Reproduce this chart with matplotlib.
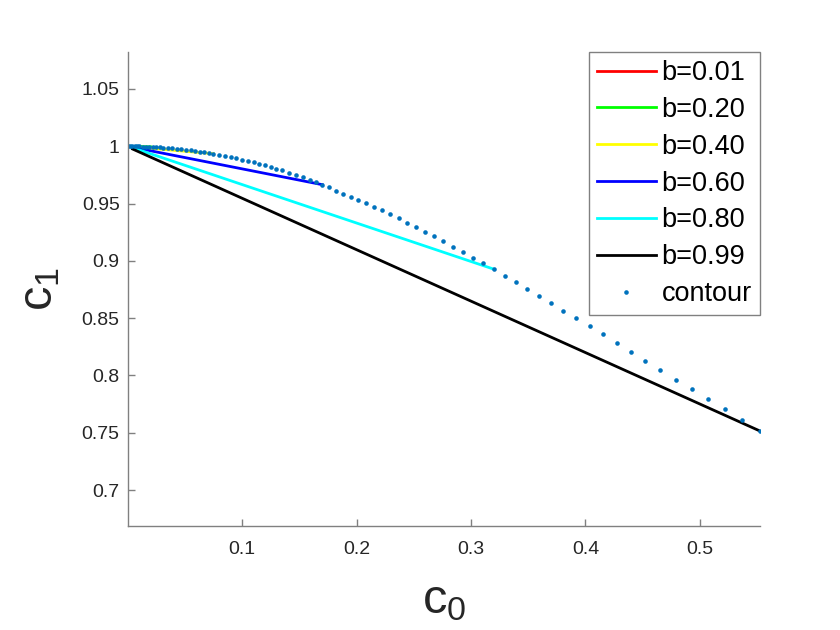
import numpy as np
import matplotlib
matplotlib.use("Agg")
import matplotlib.pyplot as plt

plt.rcParams['font.family'] = ['Liberation Sans', 'DejaVu Sans']
plt.rcParams['mathtext.fontset'] = 'custom'
plt.rcParams['mathtext.rm'] = 'Liberation Sans'
plt.rcParams['mathtext.it'] = 'Liberation Sans'

# contour points (c0, c1)
contour_c0 = [0.000, 0.002, 0.004, 0.006, 0.008, 0.010, 0.013, 0.016, 0.019, 0.022,
              0.025, 0.028, 0.031, 0.035, 0.039, 0.043, 0.047, 0.051, 0.055, 0.059,
              0.063, 0.067, 0.071, 0.075, 0.080, 0.085, 0.090, 0.095, 0.100, 0.105,
              0.110, 0.115, 0.120, 0.125, 0.130, 0.135, 0.141, 0.147, 0.153, 0.159,
              0.165, 0.1700, 0.1761, 0.1822, 0.1884, 0.1950, 0.2015, 0.2081, 0.2151,
              0.2219, 0.2291, 0.2367, 0.2440, 0.2519, 0.2595, 0.2676, 0.2759, 0.2843,
              0.2927, 0.3018, 0.3108, 0.3201, 0.3297, 0.3394, 0.3493, 0.3598, 0.3700,
              0.3808, 0.3922, 0.4036, 0.4152, 0.4272, 0.4397, 0.4522, 0.4654, 0.4788,
              0.4928, 0.5071, 0.5217, 0.5366, 0.5523]
contour_c1 = [1.0000, 1.0000, 1.0000, 1.0000, 0.9999, 0.9999, 0.9998, 0.9997, 0.9996, 0.9994,
              0.9993, 0.9991, 0.9989, 0.9986, 0.9982, 0.9979, 0.9974, 0.9970, 0.9965, 0.9960,
              0.9954, 0.9948, 0.9942, 0.9935, 0.9926, 0.9916, 0.9906, 0.9895, 0.9884, 0.9872,
              0.9860, 0.9847, 0.9833, 0.9819, 0.9804, 0.9789, 0.9769, 0.9749, 0.9728, 0.9707,
              0.9684, 0.9665, 0.9642, 0.9613, 0.9586, 0.9560, 0.9534, 0.9505, 0.9473,
              0.9442, 0.9409, 0.9372, 0.9333, 0.9296, 0.9255, 0.9215, 0.9171, 0.9124,
              0.9078, 0.9028, 0.8979, 0.8927, 0.8871, 0.8816, 0.8755, 0.8696, 0.8633,
              0.8565, 0.8499, 0.8432, 0.8359, 0.8284, 0.8208, 0.8129, 0.8048, 0.7963,
              0.7882, 0.7795, 0.7705, 0.7612, 0.7516]

# straight lines for each b: start and end points
b_labels = ["b=0.01", "b=0.20", "b=0.40", "b=0.60", "b=0.80", "b=0.99"]
b_colors = ["#ff0000", "#00ff00", "#ffff00", "#0000ff", "#00ffff", "#000000"]
line_c0 = [[0.0000, 0.0005], [0.0000, 0.0200], [0.0000, 0.0750],
           [0.0000, 0.1700], [0.0020, 0.3201], [0.0043, 0.5523]]
line_c1 = [[1.0000, 1.0000], [1.0000, 0.9995], [1.0000, 0.9935],
           [1.0000, 0.9665], [0.9995, 0.8927], [0.9976, 0.7516]]

fig = plt.figure(figsize=(8.4, 6.3), dpi=100)
ax = fig.add_axes([0.1524, 0.1651, 0.7524, 0.7524])

for xs, ys, c, lab in zip(line_c0, line_c1, b_colors, b_labels):
    ax.plot(xs, ys, color=c, linewidth=2.0, label=lab)
ax.plot(contour_c0, contour_c1, linestyle="none", marker="o", markersize=3.3,
        markeredgewidth=0, color="#0072bd", label="contour")

ax.set_xlim(0.0003, 0.5526)
ax.set_ylim(0.6686, 1.0823)
ax.set_xticks([0.1, 0.2, 0.3, 0.4, 0.5])
ax.set_yticks([0.7, 0.75, 0.8, 0.85, 0.9, 0.95, 1.0, 1.05])
ax.set_yticklabels(["0.7", "0.75", "0.8", "0.85", "0.9", "0.95", "1", "1.05"])

for s in ["top", "right"]:
    ax.spines[s].set_visible(False)
for s in ["left", "bottom"]:
    ax.spines[s].set_color("#808080")
    ax.spines[s].set_linewidth(1.0)
ax.tick_params(direction="in", length=5, width=1.0, color="#808080",
               labelsize=14, labelcolor="#262626")
ax.tick_params(axis="x", pad=11)
ax.tick_params(axis="y", pad=6)

ax.set_xlabel(r"$\mathregular{c_0}$", fontsize=35, color="#262626", labelpad=14)
ax.set_ylabel(r"$\mathregular{c_1}$", fontsize=35, color="#262626", labelpad=14)

leg = ax.legend(loc="upper right", borderaxespad=0, fontsize=19.5,
                handlelength=2.2, handletextpad=0.2, labelspacing=0.4,
                borderpad=0.3, fancybox=False, framealpha=1)
leg.get_frame().set_edgecolor("#808080")
leg.get_frame().set_linewidth(1.0)

fig.savefig("out.png")
